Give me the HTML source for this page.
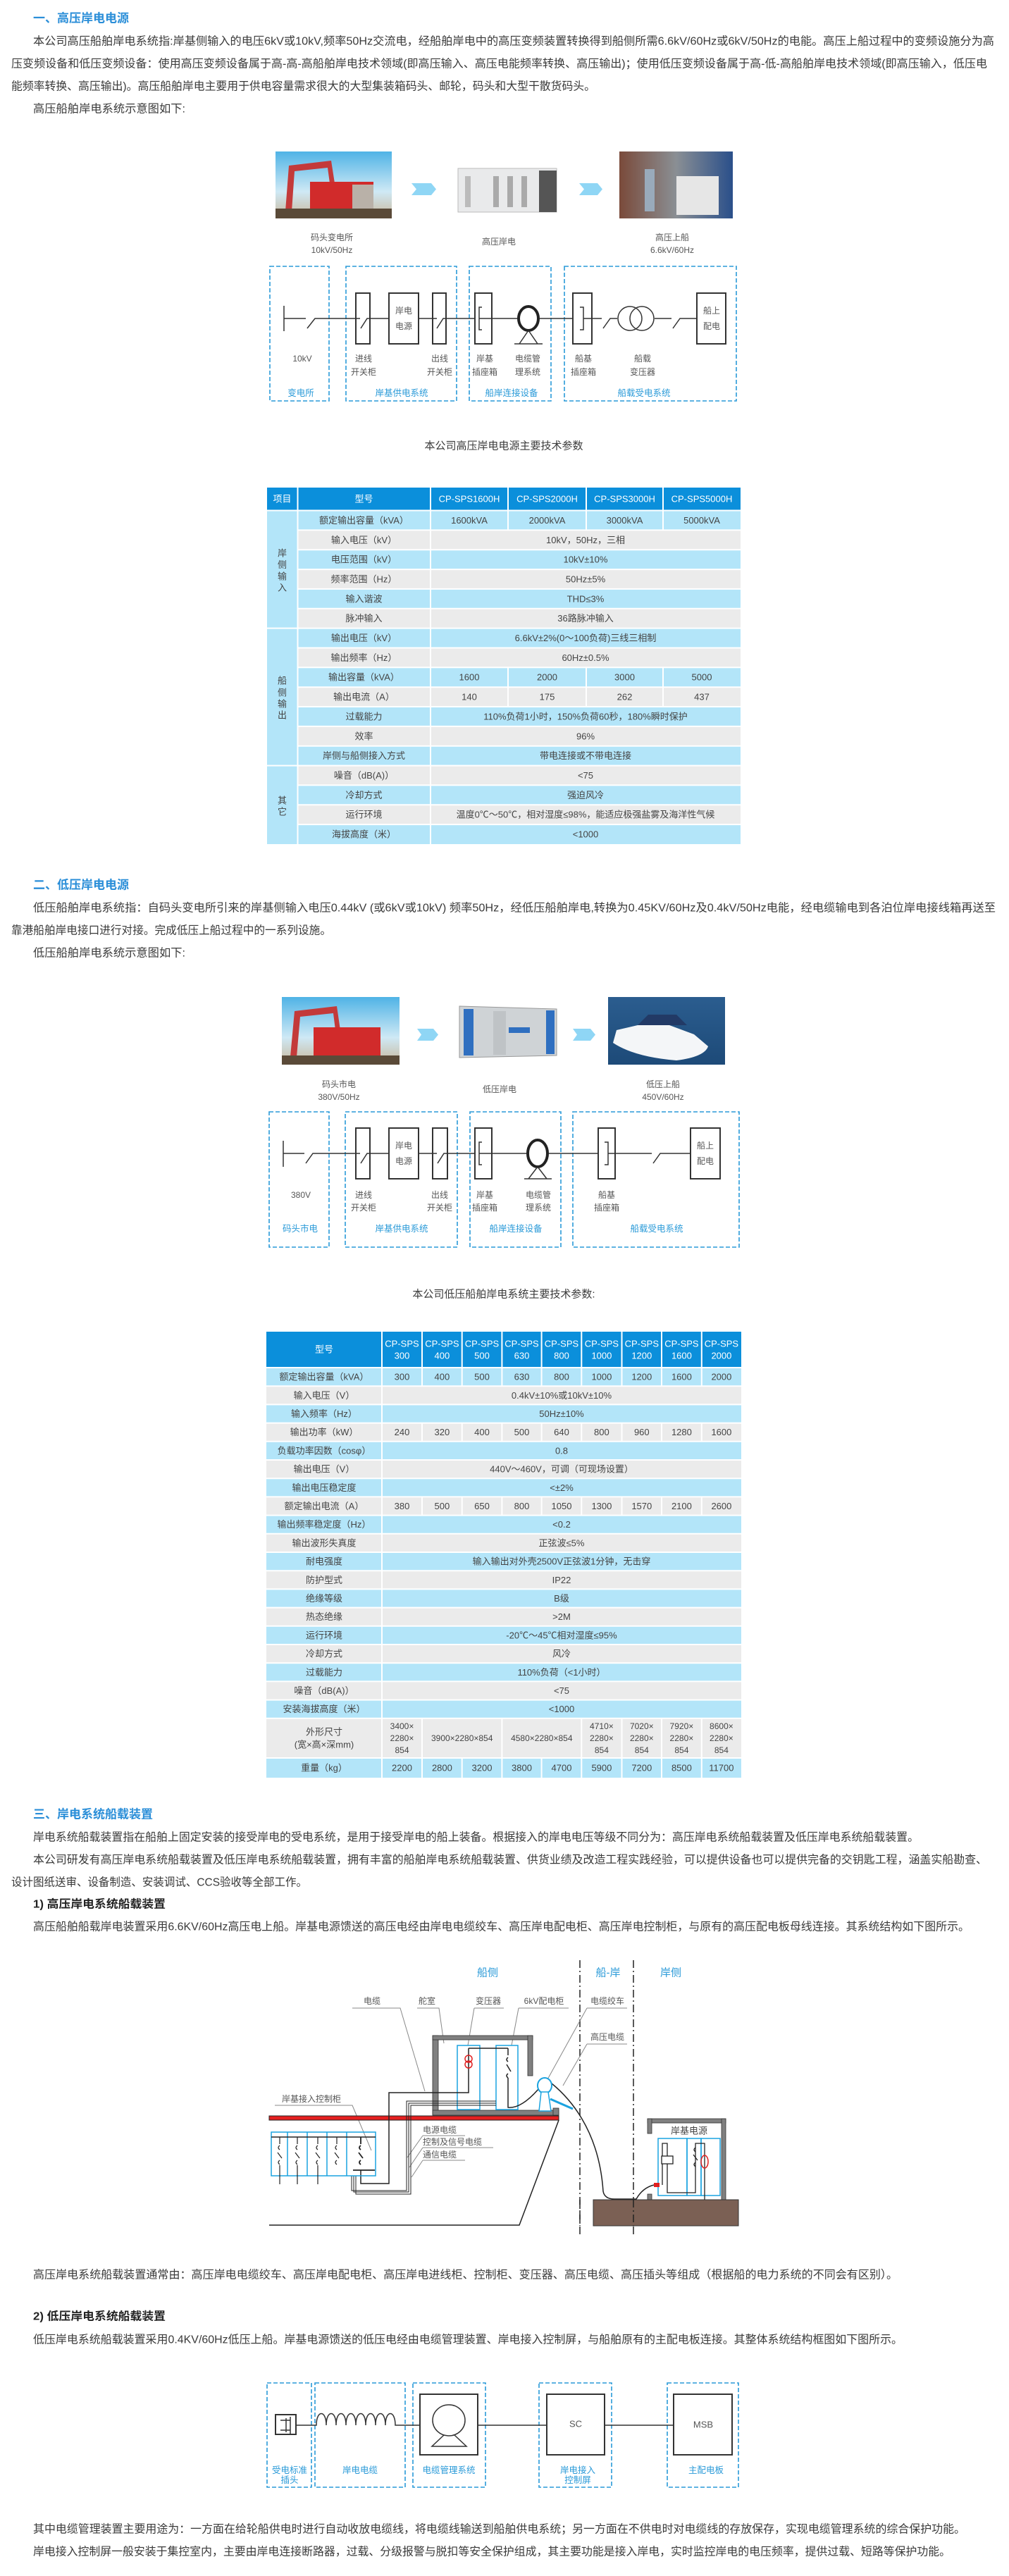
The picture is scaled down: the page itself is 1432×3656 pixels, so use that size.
<!DOCTYPE html>
<html><head><meta charset="utf-8"><style>
html,body{margin:0;padding:0;background:#fff;}
svg{display:block;font-family:"Liberation Sans","Noto Sans CJK SC",sans-serif;}
.p{font-size:16px;fill:#3a3a3a;}
.h{font-size:17px;fill:#2a8ed8;font-weight:bold;}
.hb{font-size:16px;fill:#222;font-weight:bold;}
.t{font-size:13px;fill:#444;text-anchor:middle;}
.tw{font-size:13px;fill:#fff;text-anchor:middle;}
.l{font-size:12px;fill:#555;text-anchor:middle;}
.lb{font-size:12.5px;fill:#2a9ad8;text-anchor:middle;}
.db{fill:none;stroke:#2a9ad8;stroke-width:1.6;stroke-dasharray:6,3;}
.k{fill:none;stroke:#333;stroke-width:1.5;}
.kr{fill:#fff;stroke:#333;stroke-width:2;}
.c{fill:none;stroke:#1aa3e0;stroke-width:1.5;}
</style></head><body>
<svg width="1432" height="3656" viewBox="0 0 1432 3656" xmlns="http://www.w3.org/2000/svg" dominant-baseline="central">
<rect width="1432" height="3656" fill="#fff"/>

<!-- SECTION 1 -->
<text class="h" x="47" y="26">一、高压岸电电源</text>
<text class="p" x="47" y="59" textLength="1364" lengthAdjust="spacingAndGlyphs">本公司高压船舶岸电系统指:岸基侧输入的电压6kV或10kV,频率50Hz交流电，经船舶岸电中的高压变频装置转换得到船侧所需6.6kV/60Hz或6kV/50Hz的电能。高压上船过程中的变频设施分为高</text>
<text class="p" x="16" y="91" textLength="1385" lengthAdjust="spacingAndGlyphs">压变频设备和低压变频设备：使用高压变频设备属于高-高-高船舶岸电技术领域(即高压输入、高压电能频率转换、高压输出)；使用低压变频设备属于高-低-高船舶岸电技术领域(即高压输入，低压电</text>
<text class="p" x="16" y="123" textLength="829" lengthAdjust="spacingAndGlyphs">能频率转换、高压输出)。高压船舶岸电主要用于供电容量需求很大的大型集装箱码头、邮轮，码头和大型干散货码头。</text>
<text class="p" x="47" y="155" textLength="216" lengthAdjust="spacingAndGlyphs">高压船舶岸电系统示意图如下:</text>

<defs>
<linearGradient id="sky" x1="0" y1="0" x2="0" y2="1"><stop offset="0" stop-color="#4fb3e6"/><stop offset="0.6" stop-color="#cfe9f5"/><stop offset="1" stop-color="#c9b79a"/></linearGradient>
<linearGradient id="sea" x1="0" y1="0" x2="0" y2="1"><stop offset="0" stop-color="#2b5d8f"/><stop offset="1" stop-color="#1d4a78"/></linearGradient>
<linearGradient id="deck" x1="0" y1="0" x2="1" y2="0"><stop offset="0" stop-color="#7a4a3a"/><stop offset="0.5" stop-color="#8a8f94"/><stop offset="1" stop-color="#2a4f8a"/></linearGradient>
</defs>
<g>
<rect x="391" y="215" width="165" height="95" fill="url(#sky)"/>
<path d="M405 300 L410 235 L470 228 L475 260 L468 260 L465 238 L418 243 L414 300Z" fill="#c33a3a"/>
<rect x="440" y="258" width="90" height="42" fill="#d12b2b"/>
<rect x="500" y="262" width="30" height="38" fill="#b9b1a8"/>
<rect x="391" y="296" width="165" height="14" fill="#5a4a38"/>
<rect x="650" y="239" width="140" height="62" fill="#e9eaeb" stroke="#bbb"/>
<rect x="765" y="242" width="25" height="59" fill="#555"/>
<rect x="660" y="250" width="8" height="44" fill="#bbb"/><rect x="700" y="250" width="8" height="44" fill="#aaa"/><rect x="720" y="250" width="8" height="44" fill="#aaa"/><rect x="740" y="250" width="8" height="44" fill="#aaa"/>
<rect x="879" y="215" width="161" height="95" fill="url(#deck)"/>
<rect x="960" y="250" width="60" height="55" fill="#e6e6e6"/>
<rect x="915" y="240" width="14" height="60" fill="#9ab"/>
<path d="M584 260 L612 260 L619 268.5 L612 277 L584 277 L591 268.5Z" fill="#8fd6f5"/>
<path d="M822 260 L848 260 L855 268.5 L848 277 L822 277 L829 268.5Z" fill="#8fd6f5"/>
</g>
<text class="l" x="471" y="337">码头变电所</text><text class="l" x="471" y="355">10kV/50Hz</text>
<text class="l" x="708" y="343">高压岸电</text>
<text class="l" x="954" y="337">高压上船</text><text class="l" x="954" y="355">6.6kV/60Hz</text>

<rect class="db" x="383" y="378" width="84" height="191"/>
<rect class="db" x="491" y="378" width="157" height="191"/>
<rect class="db" x="666" y="378" width="116" height="191"/>
<rect class="db" x="801" y="378" width="244" height="191"/>
<line class="k" x1="403" y1="434" x2="403" y2="470"/>
<path class="k" d="M403 452 H434 M436 466 L447 452 H505 M525 452 H552 M594 452 H614 M633 452 H674 M698 452 H734 M766 452 H813 M840 452 H854 M856 466 L866 452 H876 M929 452 H953 M955 466 L965 452 H989"/>
<rect class="kr" x="505" y="416" width="20" height="72"/><path class="k" d="M505 452 H511 M512 466 L521 452 H525"/>
<rect class="kr" x="552" y="416" width="42" height="72"/>
<text class="l" x="573" y="441">岸电</text><text class="l" x="573" y="463">电源</text>
<rect class="kr" x="614" y="416" width="19" height="72"/><path class="k" d="M614 452 H620 M620 466 L629 452 H633"/>
<rect class="kr" x="674" y="416" width="24" height="72"/><path class="k" d="M684 436 H680 V468 H684 M680 452 H698"/>
<ellipse cx="750" cy="452" rx="14" ry="17" fill="none" stroke="#222" stroke-width="4"/>
<path class="k" d="M750 469 L737 488 M750 469 L763 488 M730 488 H770"/>
<rect class="kr" x="813" y="416" width="27" height="72"/><path class="k" d="M823 436 H828 V468 H823 M828 452 H840"/>
<circle cx="894" cy="452" r="17" class="k"/><circle cx="911" cy="452" r="17" class="k"/>
<rect class="kr" x="989" y="416" width="41" height="72"/>
<text class="l" x="1010" y="441">船上</text><text class="l" x="1010" y="463">配电</text>
<text class="l" x="429" y="509">10kV</text>
<text class="l" x="516" y="509">进线</text><text class="l" x="516" y="528">开关柜</text>
<text class="l" x="624" y="509">出线</text><text class="l" x="624" y="528">开关柜</text>
<text class="l" x="688" y="509">岸基</text><text class="l" x="688" y="528">插座箱</text>
<text class="l" x="749" y="509">电缆管</text><text class="l" x="749" y="528">理系统</text>
<text class="l" x="828" y="509">船基</text><text class="l" x="828" y="528">插座箱</text>
<text class="l" x="912" y="509">船载</text><text class="l" x="912" y="528">变压器</text>
<text class="lb" x="427" y="558">变电所</text><text class="lb" x="570" y="558">岸基供电系统</text><text class="lb" x="726" y="558">船岸连接设备</text><text class="lb" x="914" y="558">船载受电系统</text>

<!-- TABLE 1 -->
<text class="p" x="715" y="633" text-anchor="middle" style="font-size:15px">本公司高压岸电电源主要技术参数</text>
<rect x="379" y="692" width="672" height="32.5" fill="#0b8fdb"/>
<g fill="#b3e5f9">
<rect x="379" y="724.5" width="43.5" height="473.5"/>
<rect x="422.5" y="724.5" width="628.5" height="27.9"/>
<rect x="422.5" y="780.2" width="628.5" height="27.9"/>
<rect x="422.5" y="835.9" width="628.5" height="27.9"/>
<rect x="422.5" y="891.6" width="628.5" height="27.9"/>
<rect x="422.5" y="947.3" width="628.5" height="27.9"/>
<rect x="422.5" y="1003.0" width="628.5" height="27.9"/>
<rect x="422.5" y="1058.7" width="628.5" height="27.9"/>
<rect x="422.5" y="1114.4" width="628.5" height="27.9"/>
<rect x="422.5" y="1170.1" width="628.5" height="27.9"/>
</g>
<g fill="#ebebeb">
<rect x="422.5" y="752.4" width="628.5" height="27.8"/>
<rect x="422.5" y="808.1" width="628.5" height="27.8"/>
<rect x="422.5" y="863.8" width="628.5" height="27.8"/>
<rect x="422.5" y="919.5" width="628.5" height="27.8"/>
<rect x="422.5" y="975.2" width="628.5" height="27.8"/>
<rect x="422.5" y="1030.9" width="628.5" height="27.8"/>
<rect x="422.5" y="1086.6" width="628.5" height="27.8"/>
<rect x="422.5" y="1142.3" width="628.5" height="27.8"/>
</g>
<g stroke="#fff" stroke-width="2">
<line x1="379" y1="724.5" x2="1051" y2="724.5"/>
<line x1="422.5" y1="752.4" x2="1051" y2="752.4"/><line x1="422.5" y1="780.2" x2="1051" y2="780.2"/><line x1="422.5" y1="808.1" x2="1051" y2="808.1"/><line x1="422.5" y1="835.9" x2="1051" y2="835.9"/><line x1="422.5" y1="863.8" x2="1051" y2="863.8"/>
<line x1="379" y1="891.6" x2="1051" y2="891.6"/>
<line x1="422.5" y1="919.5" x2="1051" y2="919.5"/><line x1="422.5" y1="947.3" x2="1051" y2="947.3"/><line x1="422.5" y1="975.2" x2="1051" y2="975.2"/><line x1="422.5" y1="1003" x2="1051" y2="1003"/><line x1="422.5" y1="1030.9" x2="1051" y2="1030.9"/><line x1="422.5" y1="1058.7" x2="1051" y2="1058.7"/>
<line x1="379" y1="1086.6" x2="1051" y2="1086.6"/>
<line x1="422.5" y1="1114.4" x2="1051" y2="1114.4"/><line x1="422.5" y1="1142.3" x2="1051" y2="1142.3"/><line x1="422.5" y1="1170.1" x2="1051" y2="1170.1"/>
<line x1="422.5" y1="692" x2="422.5" y2="1198"/><line x1="611" y1="692" x2="611" y2="1198"/>
<line x1="721" y1="692" x2="721" y2="752.4"/><line x1="832" y1="692" x2="832" y2="752.4"/><line x1="941" y1="692" x2="941" y2="752.4"/>
<line x1="721" y1="947.3" x2="721" y2="1003"/><line x1="832" y1="947.3" x2="832" y2="1003"/><line x1="941" y1="947.3" x2="941" y2="1003"/>
</g>
<text class="tw" x="400.5" y="708">项目</text><text class="tw" x="516.5" y="708">型号</text>
<text class="tw" x="666" y="708">CP-SPS1600H</text><text class="tw" x="776.5" y="708">CP-SPS2000H</text><text class="tw" x="886.5" y="708">CP-SPS3000H</text><text class="tw" x="996" y="708">CP-SPS5000H</text>
<text class="t" x="400.5" y="785">岸</text><text class="t" x="400.5" y="801.5">侧</text><text class="t" x="400.5" y="818">输</text><text class="t" x="400.5" y="834">入</text>
<text class="t" x="400.5" y="966">船</text><text class="t" x="400.5" y="983">侧</text><text class="t" x="400.5" y="999">输</text><text class="t" x="400.5" y="1015">出</text>
<text class="t" x="400.5" y="1136">其</text><text class="t" x="400.5" y="1152">它</text>
<g class="t">
<text class="t" x="516.5" y="738.4">额定输出容量（kVA）</text><text class="t" x="666" y="738.4">1600kVA</text><text class="t" x="776.5" y="738.4">2000kVA</text><text class="t" x="886.5" y="738.4">3000kVA</text><text class="t" x="996" y="738.4">5000kVA</text>
<text class="t" x="516.5" y="766.3">输入电压（kV）</text><text class="t" x="831" y="766.3">10kV，50Hz，三相</text>
<text class="t" x="516.5" y="794.1">电压范围（kV）</text><text class="t" x="831" y="794.1">10kV±10%</text>
<text class="t" x="516.5" y="822">频率范围（Hz）</text><text class="t" x="831" y="822">50Hz±5%</text>
<text class="t" x="516.5" y="849.8">输入谐波</text><text class="t" x="831" y="849.8">THD≤3%</text>
<text class="t" x="516.5" y="877.7">脉冲输入</text><text class="t" x="831" y="877.7">36路脉冲输入</text>
<text class="t" x="516.5" y="905.5">输出电压（kV）</text><text class="t" x="831" y="905.5">6.6kV±2%(0～100负荷)三线三相制</text>
<text class="t" x="516.5" y="933.4">输出频率（Hz）</text><text class="t" x="831" y="933.4">60Hz±0.5%</text>
<text class="t" x="516.5" y="961.2">输出容量（kVA）</text><text class="t" x="666" y="961.2">1600</text><text class="t" x="776.5" y="961.2">2000</text><text class="t" x="886.5" y="961.2">3000</text><text class="t" x="996" y="961.2">5000</text>
<text class="t" x="516.5" y="989.1">输出电流（A）</text><text class="t" x="666" y="989.1">140</text><text class="t" x="776.5" y="989.1">175</text><text class="t" x="886.5" y="989.1">262</text><text class="t" x="996" y="989.1">437</text>
<text class="t" x="516.5" y="1016.9">过载能力</text><text class="t" x="831" y="1016.9">110%负荷1小时，150%负荷60秒，180%瞬时保护</text>
<text class="t" x="516.5" y="1044.8">效率</text><text class="t" x="831" y="1044.8">96%</text>
<text class="t" x="516.5" y="1072.6">岸侧与船侧接入方式</text><text class="t" x="831" y="1072.6">带电连接或不带电连接</text>
<text class="t" x="516.5" y="1100.5">噪音（dB(A)）</text><text class="t" x="831" y="1100.5">&lt;75</text>
<text class="t" x="516.5" y="1128.3">冷却方式</text><text class="t" x="831" y="1128.3">强迫风冷</text>
<text class="t" x="516.5" y="1156.2">运行环境</text><text class="t" x="831" y="1156.2">温度0℃～50℃，相对湿度≤98%，能适应极强盐雾及海洋性气候</text>
<text class="t" x="516.5" y="1184">海拔高度（米）</text><text class="t" x="831" y="1184">&lt;1000</text>
</g>

<!-- SECTION 2 -->
<text class="h" x="47" y="1256">二、低压岸电电源</text>
<text class="p" x="47" y="1289" textLength="1366" lengthAdjust="spacingAndGlyphs">低压船舶岸电系统指：自码头变电所引来的岸基侧输入电压0.44kV (或6kV或10kV) 频率50Hz，经低压船舶岸电,转换为0.45KV/60Hz及0.4kV/50Hz电能，经电缆输电到各泊位岸电接线箱再送至</text>
<text class="p" x="16" y="1321" textLength="454" lengthAdjust="spacingAndGlyphs">靠港船舶岸电接口进行对接。完成低压上船过程中的一系列设施。</text>
<text class="p" x="47" y="1353" textLength="216" lengthAdjust="spacingAndGlyphs">低压船舶岸电系统示意图如下:</text>

<rect x="400" y="1415" width="167" height="96" fill="url(#sky)"/>
<path d="M412 1500 L418 1435 L478 1428 L483 1462 L476 1462 L473 1438 L426 1443 L421 1500Z" fill="#c33a3a"/>
<rect x="445" y="1458" width="95" height="42" fill="#d12b2b"/>
<rect x="400" y="1498" width="167" height="13" fill="#5a4a38"/>
<path d="M652 1428 L790 1432 L790 1498 L652 1501Z" fill="#cfd3d6" stroke="#999"/>
<rect x="658" y="1432" width="14" height="66" fill="#2f6fc0"/>
<rect x="775" y="1434" width="12" height="62" fill="#2f6fc0"/>
<rect x="700" y="1435" width="18" height="62" fill="#bfc3c6"/>
<rect x="722" y="1458" width="30" height="8" fill="#2f6fc0"/>
<rect x="863" y="1415" width="166" height="96" fill="url(#sea)"/>
<path d="M870 1480 Q900 1500 960 1505 Q1000 1500 1005 1485 L985 1468 L950 1455 L905 1455 L875 1462Z" fill="#f4f6f8"/>
<path d="M905 1455 L920 1440 L960 1440 L975 1455Z" fill="#223a66"/>
<path d="M592 1460 L615 1460 L622 1468.5 L615 1477 L592 1477 L598 1468.5Z" fill="#8fd6f5"/>
<path d="M813 1460 L838 1460 L845 1468.5 L838 1477 L813 1477 L819 1468.5Z" fill="#8fd6f5"/>
<text class="l" x="481" y="1539">码头市电</text><text class="l" x="481" y="1557">380V/50Hz</text>
<text class="l" x="709" y="1546">低压岸电</text>
<text class="l" x="941" y="1539">低压上船</text><text class="l" x="941" y="1557">450V/60Hz</text>

<rect class="db" x="382" y="1578" width="85" height="192"/>
<rect class="db" x="490" y="1578" width="159" height="192"/>
<rect class="db" x="667" y="1578" width="129" height="192"/>
<rect class="db" x="813" y="1578" width="236" height="192"/>
<line class="k" x1="402" y1="1619" x2="402" y2="1656"/>
<path class="k" d="M402 1637 H432 M434 1651 L444 1637 H505 M525 1637 H552 M594 1637 H614 M635 1637 H674 M698 1637 H747 M779 1637 H849 M873 1637 H925 M927 1651 L937 1637 H980"/>
<rect class="kr" x="505" y="1601" width="20" height="72"/><path class="k" d="M505 1637 H511 M512 1651 L521 1637 H525"/>
<rect class="kr" x="552" y="1601" width="42" height="72"/>
<text class="l" x="573" y="1626">岸电</text><text class="l" x="573" y="1648">电源</text>
<rect class="kr" x="614" y="1601" width="21" height="72"/><path class="k" d="M614 1637 H620 M621 1651 L630 1637 H635"/>
<rect class="kr" x="674" y="1601" width="24" height="72"/><path class="k" d="M684 1621 H680 V1653 H684 M680 1637 H698"/>
<ellipse cx="763" cy="1637" rx="14" ry="19" fill="none" stroke="#222" stroke-width="4"/>
<path class="k" d="M763 1656 L750 1673 M763 1656 L776 1673 M744 1673 H783"/>
<rect class="kr" x="849" y="1601" width="24" height="72"/><path class="k" d="M858 1621 H863 V1653 H858 M863 1637 H873"/>
<rect class="kr" x="980" y="1601" width="42" height="72"/>
<text class="l" x="1001" y="1626">船上</text><text class="l" x="1001" y="1648">配电</text>
<text class="l" x="427" y="1696">380V</text>
<text class="l" x="516" y="1696">进线</text><text class="l" x="516" y="1714">开关柜</text>
<text class="l" x="624" y="1696">出线</text><text class="l" x="624" y="1714">开关柜</text>
<text class="l" x="688" y="1696">岸基</text><text class="l" x="688" y="1714">插座箱</text>
<text class="l" x="764" y="1696">电缆管</text><text class="l" x="764" y="1714">理系统</text>
<text class="l" x="861" y="1696">船基</text><text class="l" x="861" y="1714">插座箱</text>
<text class="lb" x="426" y="1744">码头市电</text><text class="lb" x="570" y="1744">岸基供电系统</text><text class="lb" x="732" y="1744">船岸连接设备</text><text class="lb" x="932" y="1744">船载受电系统</text>

<!-- TABLE 2 -->
<text class="p" x="715" y="1837" text-anchor="middle" style="font-size:15px">本公司低压船舶岸电系统主要技术参数:</text>
<rect x="378" y="1890" width="674" height="51" fill="#0b8fdb"/>
<g fill="#b3e5f9">
<rect x="378" y="1941" width="674" height="26.2"/><rect x="378" y="1993.4" width="674" height="26.2"/><rect x="378" y="2045.8" width="674" height="26.2"/><rect x="378" y="2098.2" width="674" height="26.2"/><rect x="378" y="2150.6" width="674" height="26.2"/><rect x="378" y="2203" width="674" height="26.2"/><rect x="378" y="2255.4" width="674" height="26.2"/><rect x="378" y="2307.8" width="674" height="26.2"/><rect x="378" y="2360.2" width="674" height="26.2"/><rect x="378" y="2412.6" width="674" height="26.2"/><rect x="378" y="2495" width="674" height="28"/>
</g>
<g fill="#ebebeb">
<rect x="378" y="1967.2" width="674" height="26.2"/><rect x="378" y="2019.6" width="674" height="26.2"/><rect x="378" y="2072" width="674" height="26.2"/><rect x="378" y="2124.4" width="674" height="26.2"/><rect x="378" y="2176.8" width="674" height="26.2"/><rect x="378" y="2229.2" width="674" height="26.2"/><rect x="378" y="2281.6" width="674" height="26.2"/><rect x="378" y="2334" width="674" height="26.2"/><rect x="378" y="2386.4" width="674" height="26.2"/><rect x="378" y="2438.8" width="674" height="56.2"/>
</g>
<g stroke="#fff" stroke-width="2">
<line x1="378" y1="1941" x2="1052" y2="1941"/><line x1="378" y1="1967.2" x2="1052" y2="1967.2"/><line x1="378" y1="1993.4" x2="1052" y2="1993.4"/><line x1="378" y1="2019.6" x2="1052" y2="2019.6"/><line x1="378" y1="2045.8" x2="1052" y2="2045.8"/><line x1="378" y1="2072" x2="1052" y2="2072"/><line x1="378" y1="2098.2" x2="1052" y2="2098.2"/><line x1="378" y1="2124.4" x2="1052" y2="2124.4"/><line x1="378" y1="2150.6" x2="1052" y2="2150.6"/><line x1="378" y1="2176.8" x2="1052" y2="2176.8"/><line x1="378" y1="2203" x2="1052" y2="2203"/><line x1="378" y1="2229.2" x2="1052" y2="2229.2"/><line x1="378" y1="2255.4" x2="1052" y2="2255.4"/><line x1="378" y1="2281.6" x2="1052" y2="2281.6"/><line x1="378" y1="2307.8" x2="1052" y2="2307.8"/><line x1="378" y1="2334" x2="1052" y2="2334"/><line x1="378" y1="2360.2" x2="1052" y2="2360.2"/><line x1="378" y1="2386.4" x2="1052" y2="2386.4"/><line x1="378" y1="2412.6" x2="1052" y2="2412.6"/><line x1="378" y1="2438.8" x2="1052" y2="2438.8"/><line x1="378" y1="2495" x2="1052" y2="2495"/>
<line x1="542" y1="1890" x2="542" y2="2523"/>
<path d="M599 1890 V1967.2 M655.7 1890 V1967.2 M712.4 1890 V1967.2 M768.6 1890 V1967.2 M825.3 1890 V1967.2 M882.5 1890 V1967.2 M939 1890 V1967.2 M995.8 1890 V1967.2"/>
<path d="M599 2019.6 V2045.8 M655.7 2019.6 V2045.8 M712.4 2019.6 V2045.8 M768.6 2019.6 V2045.8 M825.3 2019.6 V2045.8 M882.5 2019.6 V2045.8 M939 2019.6 V2045.8 M995.8 2019.6 V2045.8"/>
<path d="M599 2124.4 V2150.6 M655.7 2124.4 V2150.6 M712.4 2124.4 V2150.6 M768.6 2124.4 V2150.6 M825.3 2124.4 V2150.6 M882.5 2124.4 V2150.6 M939 2124.4 V2150.6 M995.8 2124.4 V2150.6"/>
<path d="M599 2438.8 V2523 M712.4 2438.8 V2523 M825.3 2438.8 V2523 M882.5 2438.8 V2523 M939 2438.8 V2523 M995.8 2438.8 V2523 M655.7 2495 V2523 M768.6 2495 V2523"/>
</g>
<text class="tw" x="460" y="1915">型号</text>
<g>
<text class="tw" x="570.5" y="1907">CP-SPS</text><text class="tw" x="570.5" y="1924">300</text>
<text class="tw" x="627.4" y="1907">CP-SPS</text><text class="tw" x="627.4" y="1924">400</text>
<text class="tw" x="684" y="1907">CP-SPS</text><text class="tw" x="684" y="1924">500</text>
<text class="tw" x="740.5" y="1907">CP-SPS</text><text class="tw" x="740.5" y="1924">630</text>
<text class="tw" x="797" y="1907">CP-SPS</text><text class="tw" x="797" y="1924">800</text>
<text class="tw" x="853.9" y="1907">CP-SPS</text><text class="tw" x="853.9" y="1924">1000</text>
<text class="tw" x="910.8" y="1907">CP-SPS</text><text class="tw" x="910.8" y="1924">1200</text>
<text class="tw" x="967.4" y="1907">CP-SPS</text><text class="tw" x="967.4" y="1924">1600</text>
<text class="tw" x="1023.9" y="1907">CP-SPS</text><text class="tw" x="1023.9" y="1924">2000</text>
</g>
<text class="t" x="460" y="1954.1">额定输出容量（kVA）</text>
<text class="t" x="570.5" y="1954.1">300</text><text class="t" x="627.4" y="1954.1">400</text><text class="t" x="684" y="1954.1">500</text><text class="t" x="740.5" y="1954.1">630</text><text class="t" x="797" y="1954.1">800</text><text class="t" x="853.9" y="1954.1">1000</text><text class="t" x="910.8" y="1954.1">1200</text><text class="t" x="967.4" y="1954.1">1600</text><text class="t" x="1023.9" y="1954.1">2000</text>
<text class="t" x="460" y="1980.3">输入电压（V）</text><text class="t" x="797" y="1980.3">0.4kV±10%或10kV±10%</text>
<text class="t" x="460" y="2006.5">输入频率（Hz）</text><text class="t" x="797" y="2006.5">50Hz±10%</text>
<text class="t" x="460" y="2032.7">输出功率（kW）</text>
<text class="t" x="570.5" y="2032.7">240</text><text class="t" x="627.4" y="2032.7">320</text><text class="t" x="684" y="2032.7">400</text><text class="t" x="740.5" y="2032.7">500</text><text class="t" x="797" y="2032.7">640</text><text class="t" x="853.9" y="2032.7">800</text><text class="t" x="910.8" y="2032.7">960</text><text class="t" x="967.4" y="2032.7">1280</text><text class="t" x="1023.9" y="2032.7">1600</text>
<text class="t" x="460" y="2058.9">负载功率因数（cosφ）</text><text class="t" x="797" y="2058.9">0.8</text>
<text class="t" x="460" y="2085.1">输出电压（V）</text><text class="t" x="797" y="2085.1">440V～460V，可调（可现场设置）</text>
<text class="t" x="460" y="2111.3">输出电压稳定度</text><text class="t" x="797" y="2111.3">&lt;±2%</text>
<text class="t" x="460" y="2137.5">额定输出电流（A）</text>
<text class="t" x="570.5" y="2137.5">380</text><text class="t" x="627.4" y="2137.5">500</text><text class="t" x="684" y="2137.5">650</text><text class="t" x="740.5" y="2137.5">800</text><text class="t" x="797" y="2137.5">1050</text><text class="t" x="853.9" y="2137.5">1300</text><text class="t" x="910.8" y="2137.5">1570</text><text class="t" x="967.4" y="2137.5">2100</text><text class="t" x="1023.9" y="2137.5">2600</text>
<text class="t" x="460" y="2163.7">输出频率稳定度（Hz）</text><text class="t" x="797" y="2163.7">&lt;0.2</text>
<text class="t" x="460" y="2189.9">输出波形失真度</text><text class="t" x="797" y="2189.9">正弦波≤5%</text>
<text class="t" x="460" y="2216.1">耐电强度</text><text class="t" x="797" y="2216.1">输入输出对外壳2500V正弦波1分钟，无击穿</text>
<text class="t" x="460" y="2242.3">防护型式</text><text class="t" x="797" y="2242.3">IP22</text>
<text class="t" x="460" y="2268.5">绝缘等级</text><text class="t" x="797" y="2268.5">B级</text>
<text class="t" x="460" y="2294.7">热态绝缘</text><text class="t" x="797" y="2294.7">&gt;2M</text>
<text class="t" x="460" y="2320.9">运行环境</text><text class="t" x="797" y="2320.9">-20℃～45℃相对湿度≤95%</text>
<text class="t" x="460" y="2347.1">冷却方式</text><text class="t" x="797" y="2347.1">风冷</text>
<text class="t" x="460" y="2373.3">过载能力</text><text class="t" x="797" y="2373.3">110%负荷（&lt;1小时）</text>
<text class="t" x="460" y="2399.5">噪音（dB(A)）</text><text class="t" x="797" y="2399.5">&lt;75</text>
<text class="t" x="460" y="2425.7">安装海拔高度（米）</text><text class="t" x="797" y="2425.7">&lt;1000</text>
<text class="t" x="460" y="2458">外形尺寸</text><text class="t" x="460" y="2476">(宽×高×深mm)</text>
<g style="font-size:12px">
<text class="t" x="570.5" y="2450" style="font-size:12px">3400×</text><text class="t" x="570.5" y="2467" style="font-size:12px">2280×</text><text class="t" x="570.5" y="2484" style="font-size:12px">854</text>
<text class="t" x="655.7" y="2467" style="font-size:12px">3900×2280×854</text>
<text class="t" x="768.8" y="2467" style="font-size:12px">4580×2280×854</text>
<text class="t" x="853.9" y="2450" style="font-size:12px">4710×</text><text class="t" x="853.9" y="2467" style="font-size:12px">2280×</text><text class="t" x="853.9" y="2484" style="font-size:12px">854</text>
<text class="t" x="910.8" y="2450" style="font-size:12px">7020×</text><text class="t" x="910.8" y="2467" style="font-size:12px">2280×</text><text class="t" x="910.8" y="2484" style="font-size:12px">854</text>
<text class="t" x="967.4" y="2450" style="font-size:12px">7920×</text><text class="t" x="967.4" y="2467" style="font-size:12px">2280×</text><text class="t" x="967.4" y="2484" style="font-size:12px">854</text>
<text class="t" x="1023.9" y="2450" style="font-size:12px">8600×</text><text class="t" x="1023.9" y="2467" style="font-size:12px">2280×</text><text class="t" x="1023.9" y="2484" style="font-size:12px">854</text>
</g>
<text class="t" x="460" y="2509">重量（kg）</text>
<text class="t" x="570.5" y="2509">2200</text><text class="t" x="627.4" y="2509">2800</text><text class="t" x="684" y="2509">3200</text><text class="t" x="740.5" y="2509">3800</text><text class="t" x="797" y="2509">4700</text><text class="t" x="853.9" y="2509">5900</text><text class="t" x="910.8" y="2509">7200</text><text class="t" x="967.4" y="2509">8500</text><text class="t" x="1023.9" y="2509">11700</text>

<!-- SECTION 3 -->
<text class="h" x="47" y="2575">三、岸电系统船载装置</text>
<text class="p" x="47" y="2608" textLength="1257" lengthAdjust="spacingAndGlyphs">岸电系统船载装置指在船舶上固定安装的接受岸电的受电系统，是用于接受岸电的船上装备。根据接入的岸电电压等级不同分为：高压岸电系统船载装置及低压岸电系统船载装置。</text>
<text class="p" x="47" y="2640" textLength="1354" lengthAdjust="spacingAndGlyphs">本公司研发有高压岸电系统船载装置及低压岸电系统船载装置，拥有丰富的船舶岸电系统船载装置、供货业绩及改造工程实践经验，可以提供设备也可以提供完备的交钥匙工程，涵盖实船勘查、</text>
<text class="p" x="16" y="2672" textLength="420" lengthAdjust="spacingAndGlyphs">设计图纸送审、设备制造、安装调试、CCS验收等全部工作。</text>
<text class="hb" x="47" y="2703" textLength="188" lengthAdjust="spacingAndGlyphs">1) 高压岸电系统船载装置</text>
<text class="p" x="47" y="2735" textLength="1329" lengthAdjust="spacingAndGlyphs">高压船舶船载岸电装置采用6.6KV/60Hz高压电上船。岸基电源馈送的高压电经由岸电电缆绞车、高压岸电配电柜、高压岸电控制柜，与原有的高压配电板母线连接。其系统结构如下图所示。</text>

<text class="lb" x="692" y="2800" style="font-size:15px">船侧</text>
<text class="lb" x="863" y="2800" style="font-size:15px">船-岸</text>
<text class="lb" x="952" y="2800" style="font-size:15px">岸侧</text>
<path d="M823 2782 V3172 M899 2782 V3172" stroke="#222" stroke-width="1.5" stroke-dasharray="11,4,2,4"/>
<g class="l" style="font-size:12px">
<text class="l" x="528" y="2840">电缆</text><text class="l" x="606" y="2840">舵室</text><text class="l" x="693" y="2840">变压器</text><text class="l" x="772" y="2840">6kV配电柜</text><text class="l" x="862" y="2840">电缆绞车</text><text class="l" x="862" y="2891">高压电缆</text>
<text class="l" x="442" y="2979">岸基接入控制柜</text>
<text class="l" x="600" y="3023" style="text-anchor:start">电源电缆</text><text class="l" x="600" y="3040" style="text-anchor:start">控制及信号电缆</text><text class="l" x="600" y="3058" style="text-anchor:start">通信电缆</text>
</g>
<g stroke="#888" stroke-width="1" fill="none">
<path d="M500 2850 H568 L603 2968"/>
<path d="M592 2850 H623 L630 2900"/>
<path d="M673 2850 H715 M673 2850 L664 2903"/>
<path d="M736 2850 H807 M736 2850 L726 2903"/>
<path d="M833 2850 H890 M833 2850 L776 2953"/>
<path d="M833 2901 H890 M833 2901 L799 2960"/>
<path d="M390 2988 H500 L527 3052"/>
<path d="M600 3031 H660 M600 3031 L578 3062 M600 3048 H700 M600 3048 L581 3076 M600 3066 H660 M600 3066 L584 3090"/>
</g>
<g fill="#808080" stroke="#333" stroke-width="0.8">
<rect x="614" y="2889" width="8" height="112"/>
<rect x="614" y="2889" width="142" height="6"/>
<rect x="749" y="2889" width="7" height="57"/>
<rect x="614" y="2995" width="179" height="7"/>
<rect x="785" y="2992" width="8" height="10"/>
</g>
<rect x="382" y="3003" width="411" height="6" fill="#e52020" stroke="#222" stroke-width="1"/>
<path d="M793 3009 L737 3158 L382 3158" fill="none" stroke="#222" stroke-width="1.5"/>
<rect class="c" x="649" y="2903" width="32" height="91"/><rect class="c" x="704" y="2903" width="31" height="91"/>
<g fill="none" stroke="#222" stroke-width="1.5">
<path d="M665 2907 H721 M665 2907 V2970 H552 V3099 H512 V3080"/>
<path d="M721 2907 V2917 M721 2949 V2991 Q740 2993 765 2964"/>
<path d="M721 2920 q-4 3 0 6 M719 2930 L725 2940 M721 2943 q-4 3 0 6"/>
<path d="M704 2982 H577 V3109 H499 V3088 M704 2985 H580 V3111 H502 V3088 M704 2988 H583 V3114 H505 V3088" stroke-width="1"/>
<path d="M783 2957 C805 2975 850 3020 856 3110 Q858 3121 872 3121 L903 3121 Q912 3105 928 3101"/>
</g>
<ellipse cx="665" cy="2922" rx="5" ry="5" fill="none" stroke="#e02020" stroke-width="1.5"/><ellipse cx="665" cy="2930" rx="5" ry="5" fill="none" stroke="#e02020" stroke-width="1.5"/>
<ellipse cx="773" cy="2960" rx="10" ry="11" fill="#fff" stroke="#1aa3e0" stroke-width="2"/>
<path d="M768 2969 L778 2969 L782 2996 L765 2996Z" fill="#fff" stroke="#1aa3e0" stroke-width="1.5"/>
<line x1="781" y1="2979" x2="813" y2="2993" stroke="#1aa3e0" stroke-width="3"/>
<rect class="c" x="385" y="3026" width="148" height="62"/>
<path class="c" d="M408 3026 V3088 M436 3026 V3088 M464 3026 V3088 M492 3026 V3088"/>
<line x1="385" y1="3033" x2="533" y2="3033" stroke="#222" stroke-width="1.5"/>
<g fill="none" stroke="#222" stroke-width="1.2">
<path d="M397 3033 V3043 M397 3073 V3100 M397 3045 q-4 3 0 6 M394 3055 L400 3063 M397 3066 q-4 3 0 6"/>
<path d="M422 3033 V3043 M422 3073 V3100 M422 3045 q-4 3 0 6 M419 3055 L425 3063 M422 3066 q-4 3 0 6"/>
<path d="M451 3033 V3043 M451 3073 V3100 M451 3045 q-4 3 0 6 M448 3055 L454 3063 M451 3066 q-4 3 0 6"/>
<path d="M478 3033 V3043 M478 3045 q-4 3 0 6 M475 3055 L481 3063 M478 3066 q-4 3 0 6"/>
<path d="M512 3033 V3043 M512 3045 q-4 3 0 6 M509 3055 L515 3063 M512 3066 q-4 3 0 6 M501 3080 H532" stroke-width="1.8"/>
</g>
<g fill="#808080" stroke="#333" stroke-width="0.8">
<rect x="919" y="3007" width="111" height="6"/>
<rect x="1024" y="3007" width="6" height="115"/>
<rect x="919" y="3007" width="6" height="21"/>
<rect x="919" y="3114" width="6" height="8"/>
</g>
<text class="l" x="978" y="3024" style="font-size:13px;fill:#444">岸基电源</text>
<rect class="c" x="934" y="3035" width="41" height="81"/><rect class="c" x="975" y="3035" width="20" height="81"/><rect class="c" x="995" y="3035" width="27" height="81"/>
<g fill="none" stroke="#222" stroke-width="1.3">
<path d="M940 3101 V3042 H947 V3112 H987 V3042 H1000 V3122"/>
<rect x="939" y="3060" width="16" height="11" fill="#fff"/>
<path d="M987 3048 q-4 3 0 6 M984 3058 L990 3066 M987 3069 q-4 3 0 6"/>
</g>
<ellipse cx="1000" cy="3068" rx="5" ry="9" fill="none" stroke="#e02020" stroke-width="1.5"/>
<rect x="928" y="3098" width="8" height="6" fill="#e02020"/>
<rect x="842" y="3122" width="206" height="37" fill="#7b6054" stroke="#333" stroke-width="1"/>
<path d="M823 3122 V3159 M899 3122 V3159" stroke="#222" stroke-width="1.5" stroke-dasharray="11,4,2,4"/>

<text class="p" x="47" y="3229" textLength="1227" lengthAdjust="spacingAndGlyphs">高压岸电系统船载装置通常由：高压岸电电缆绞车、高压岸电配电柜、高压岸电进线柜、控制柜、变压器、高压电缆、高压插头等组成（根据船的电力系统的不同会有区别）。</text>
<text class="hb" x="47" y="3288" textLength="188" lengthAdjust="spacingAndGlyphs">2) 低压岸电系统船载装置</text>
<text class="p" x="47" y="3321" textLength="1234" lengthAdjust="spacingAndGlyphs">低压岸电系统船载装置采用0.4KV/60Hz低压上船。岸基电源馈送的低压电经由电缆管理装置、岸电接入控制屏，与船舶原有的主配电板连接。其整体系统结构框图如下图所示。</text>

<rect class="db" x="379" y="3382" width="63" height="148"/>
<rect class="db" x="447" y="3382" width="128" height="148"/>
<rect class="db" x="586" y="3382" width="103" height="148"/>
<rect class="db" x="765" y="3382" width="103" height="148"/>
<rect class="db" x="947" y="3382" width="101" height="148"/>
<rect class="kr" x="391" y="3427" width="29" height="28"/>
<path class="k" d="M398 3435 H412 M398 3449 H412 M406 3432 V3452 M412 3430 V3454"/>
<path class="k" d="M420 3442 H449 C449 3420 463 3420 463 3442 C463 3420 477 3420 477 3442 C477 3420 491 3420 491 3442 C491 3420 505 3420 505 3442 C505 3420 519 3420 519 3442 C519 3420 533 3420 533 3442 C533 3420 547 3420 547 3442 C547 3420 561 3420 561 3442 H596"/>
<rect class="kr" x="596" y="3398" width="82" height="86"/>
<ellipse cx="637" cy="3435" rx="23" ry="22" class="k" stroke-width="2"/>
<path class="k" d="M630 3456 L613 3472 H662 L645 3456"/>
<path class="k" d="M678 3442 H776 M858 3442 H956" stroke-width="2"/>
<rect class="kr" x="776" y="3398" width="82" height="86"/>
<text class="l" x="817" y="3440" style="font-size:13px">SC</text>
<rect class="kr" x="956" y="3398" width="83" height="86"/>
<text class="l" x="998" y="3441" style="font-size:13px">MSB</text>
<text class="lb" x="411" y="3506">受电标准</text><text class="lb" x="411" y="3520">插头</text>
<text class="lb" x="511" y="3506">岸电电缆</text>
<text class="lb" x="637" y="3506">电缆管理系统</text>
<text class="lb" x="820" y="3506">岸电接入</text><text class="lb" x="820" y="3520">控制屏</text>
<text class="lb" x="1002" y="3506">主配电板</text>

<text class="p" x="47" y="3590" textLength="1323" lengthAdjust="spacingAndGlyphs">其中电缆管理装置主要用途为：一方面在给轮船供电时进行自动收放电缆线，将电缆线输送到船舶供电系统；另一方面在不供电时对电缆线的存放保存，实现电缆管理系统的综合保护功能。</text>
<text class="p" x="47" y="3622" textLength="1302" lengthAdjust="spacingAndGlyphs">岸电接入控制屏一般安装于集控室内，主要由岸电连接断路器，过载、分级报警与脱扣等安全保护组成，其主要功能是接入岸电，实时监控岸电的电压频率，提供过载、短路等保护功能。</text>
</svg>
</body></html>
